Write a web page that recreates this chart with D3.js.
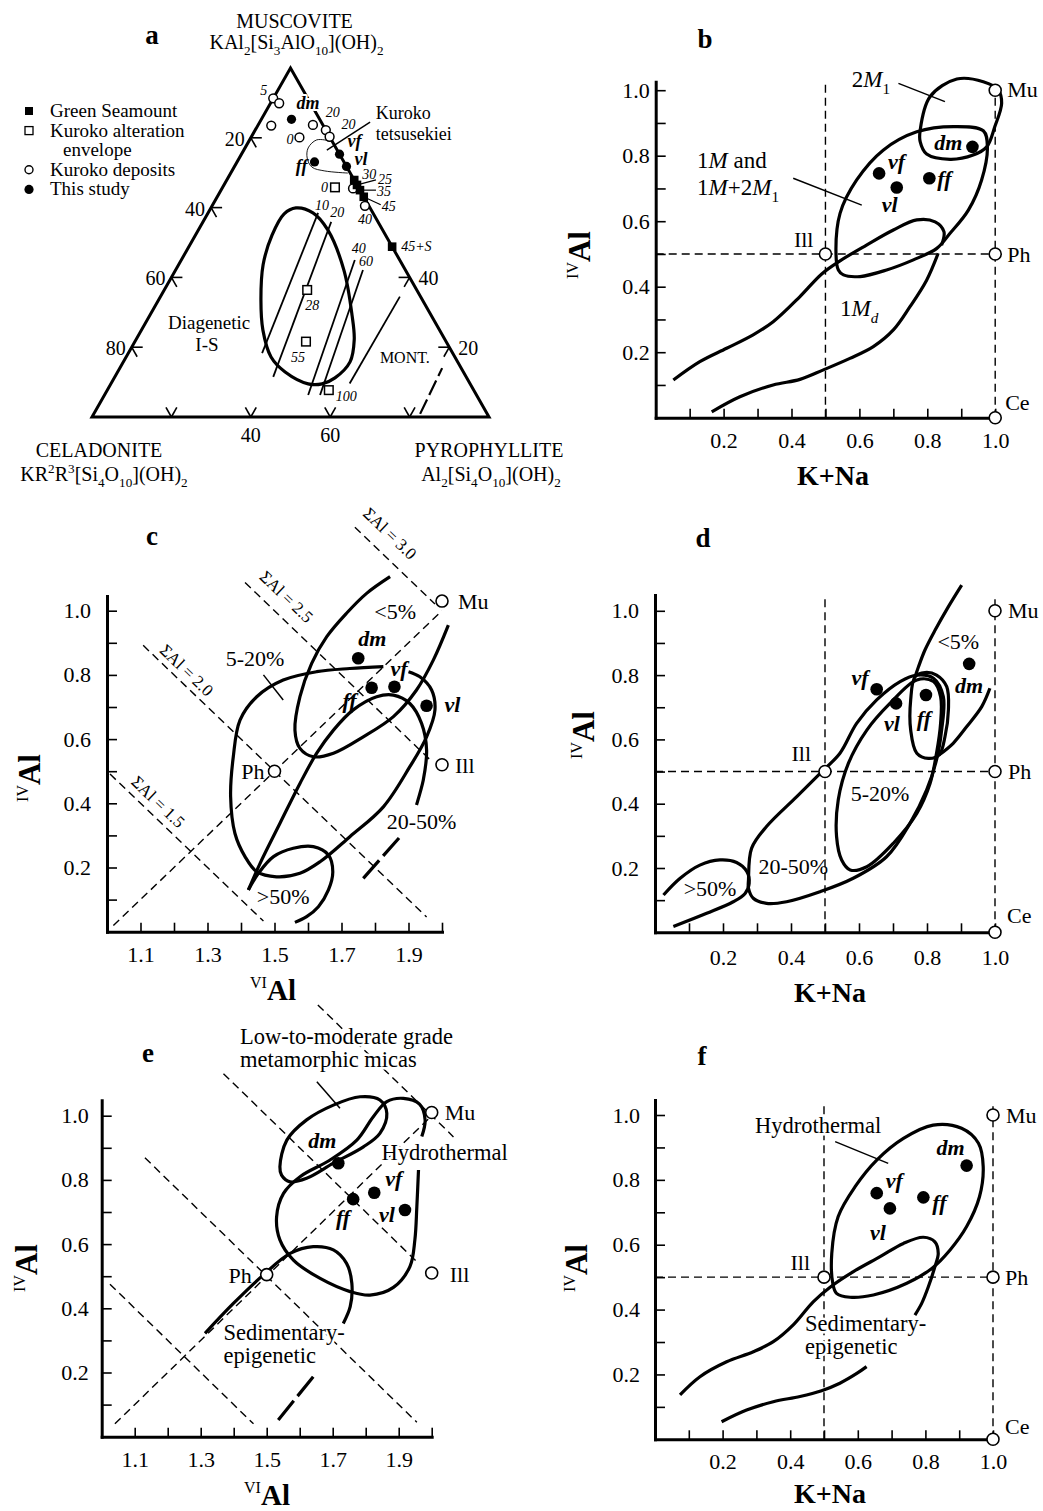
<!DOCTYPE html>
<html>
<head>
<meta charset="utf-8">
<title>Mica compositions</title>
<script src="https://cdn.jsdelivr.net/npm/d3@7"></script>
<style>
  html, body { margin: 0; padding: 0; background: #fff; }
  svg { display: block; }
</style>
</head>
<body>
<svg id="fig" width="1043" height="1511" xmlns="http://www.w3.org/2000/svg"></svg>
<script>
/* ================= DATA ================= */

/* (a) ternary Mu–Ce–Pyr; values in percent: p = pyrophyllite, m = muscovite (celadonite = 100 - p - m) */
const ternLeftTicks = [20, 40, 60, 80];
const ternRightTicks = [20, 40];
const ternBaseTicks = [20, 40, 60, 80];
const ternBaseLabels = [40, 60];

const legendA = [
  {kind: "sqFilled", lines: ["Green Seamount"]},
  {kind: "sqOpen", lines: ["Kuroko alteration", "envelope"]},
  {kind: "ciOpen", lines: ["Kuroko deposits"]},
  {kind: "ciFilled", lines: ["This study"]}
];

const greenSeamountA = [
  {p: 32.1, m: 67.9, label: "30"},
  {p: 33.5, m: 66.5, label: "25"},
  {p: 35.0, m: 65.0, label: "35"},
  {p: 36.9, m: 63.1, label: "45"},
  {p: 51.2, m: 48.8, label: "45+S"}
];
const kurokoEnvelopeA = [
  {p: 28.3, m: 65.8, label: "0"},
  {p: 36.0, m: 36.4, label: "28"},
  {p: 43.1, m: 21.6, label: "55"},
  {p: 55.8, m: 7.7, label: "100"}
];
const kurokoDepositsA = [
  {p: 0.0, m: 91.3, label: "5"},
  {p: 2.2, m: 89.9, label: ""},
  {p: 3.4, m: 83.5, label: ""},
  {p: 13.8, m: 83.7, label: ""},
  {p: 17.8, m: 82.2, label: "20"},
  {p: 19.7, m: 80.3, label: "20"},
  {p: 12.2, m: 80.1, label: "0"},
  {p: 33.0, m: 65.5, label: ""},
  {p: 38.5, m: 60.5, label: "40"}
];
const samplesA = [
  {id: "dm", p: 7.6, m: 85.3},
  {id: "vf", p: 24.7, m: 75.3},
  {id: "vl", p: 28.2, m: 71.8},
  {id: "ff", p: 19.5, m: 73.1}
];
const diageneticA = [[21.4,59.9],[26.4,58.5],[32.6,53.6],[42.4,42.1],[50.9,29.2],[55.0,22.1],[57.1,15.8],
  [55.6,11.2],[53.2,9.5],[49.7,9.5],[42.2,12.9],[36.5,17.2],[30.6,24.9],[25.8,33.5],[21.3,43.6],[19.3,52.1],[19.3,58.2]];
const illiteSmectiteLinesA = [
  {label: "10", pts: [[27.7,58.5],[33.7,18.3]]},
  {label: "20", pts: [[32.3,55.9],[39.9,11.5]]},
  {label: "40", pts: [[43.7,45.0],[51.3,6.3]]},
  {label: "60", pts: [[47.2,42.1],[54.3,6.3]]},
  {label: "",   pts: [[60.1,9.6],[60.3,34.5]]}
];
const montmorilloniteA = [[82.2,0.9],[81.2,14.0]];
const tetsusekieiA = [[20.4,79.1],[16.9,79.4],[15.9,77.1],[17.1,74.2],[19.6,71.6],[23.4,70.5],[29.5,69.9]];
const tetsusekieiPointerA = [[20.9,76.5],[27.8,84.5]];
const textA = [
  {text: "Diagenetic", p: 15.9, m: 27.2, size: 19},
  {text: "I-S", p: 18.5, m: 20.9, size: 19},
  {text: "MONT.", p: 70.2, m: 17.2, size: 16}
];
const kurokoLabelA = {lines: ["Kuroko", "tetsusekiei"], p: [28.8, 31.8], m: [85.4, 79.4]};

/* shared axis ticks */
const unitTicks = d3.range(1, 11).map(i => i / 10);          // 0.1 … 1.0
const unitLabels = [0.2, 0.4, 0.6, 0.8, 1.0];
const viAlTicks = d3.range(11, 21).map(i => i / 10);         // 1.1 … 2.0
const viAlLabels = [1.1, 1.3, 1.5, 1.7, 1.9];

/* (b) K+Na vs IVAl, polytypes */
const endMembersB = [{name: "Mu", x: 1, y: 1}, {name: "Ph", x: 1, y: 0.5}, {name: "Ce", x: 1, y: 0}, {name: "Ill", x: 0.5, y: 0.5}];
const samplesB = [{id: "dm", x: 0.933, y: 0.827}, {id: "vf", x: 0.658, y: 0.746}, {id: "vl", x: 0.710, y: 0.703}, {id: "ff", x: 0.806, y: 0.731}];
const field2M1B = [[0.779,0.878],[0.808,0.980],[0.887,1.034],[0.965,1.026],[1.009,1.001],[1.019,0.960],[0.999,0.889],
  [0.975,0.827],[0.935,0.802],[0.867,0.789],[0.798,0.805],[0.779,0.843]];
const field1MB = [[0.538,0.451],[0.531,0.502],[0.543,0.624],[0.592,0.726],[0.670,0.817],[0.769,0.873],[0.877,0.889],
  [0.965,0.876],[0.977,0.827],[0.960,0.726],[0.921,0.634],[0.867,0.563],[0.828,0.517],[0.759,0.482],[0.680,0.451],[0.602,0.431],[0.553,0.436]];
const field1MdUpperB = [[0.052,0.115],[0.130,0.171],[0.209,0.212],[0.287,0.253],[0.346,0.293],[0.425,0.370],[0.489,0.439],
  [0.543,0.479],[0.621,0.527],[0.700,0.573],[0.769,0.604],[0.823,0.598],[0.849,0.568],[0.842,0.527]];
const field1MdLowerB = [[0.165,0.018],[0.248,0.064],[0.346,0.100],[0.425,0.117],[0.494,0.146],[0.572,0.181],[0.641,0.217],
  [0.700,0.268],[0.749,0.339],[0.798,0.420],[0.832,0.502]];
const leadersB = [[[0.715,1.021],[0.852,0.965]], [[0.405,0.731],[0.607,0.649]]];
const annotationsB = [
  {parts: [{t: "2"}, {t: "M", i: 1}, {t: "1", sub: 1}], x: 0.634, y: 1.010, anchor: "middle"},
  {parts: [{t: "1"}, {t: "M", i: 1}, {t: " and"}], x: 0.122, y: 0.761, anchor: "start"},
  {parts: [{t: "1"}, {t: "M", i: 1}, {t: "+2"}, {t: "M", i: 1}, {t: "1", sub: 1}], x: 0.122, y: 0.680, anchor: "start"},
  {parts: [{t: "1"}, {t: "M", i: 1}, {t: "d", i: 1, sub: 1}], x: 0.543, y: 0.311, anchor: "start"}
];

/* (c) VIAl vs IVAl, % expandable layers */
const endMembersC = [{name: "Mu", x: 2.0, y: 1.03}, {name: "Ill", x: 2.0, y: 0.52}, {name: "Ph", x: 1.5, y: 0.5}];
const samplesC = [{id: "dm", x: 1.750, y: 0.852}, {id: "ff", x: 1.790, y: 0.760}, {id: "vf", x: 1.858, y: 0.763}, {id: "vl", x: 1.954, y: 0.704}];
const sumAlC = [{sum: 1.5, x0: 1.009, x1: 1.467}, {sum: 2.0, x0: 1.108, x1: 1.954}, {sum: 2.5, x0: 1.412, x1: 1.964}, {sum: 3.0, x0: 1.740, x1: 1.979}];
const sumAlLabelsC = [{text: "ΣAl = 1.5", x: 1.153, y: 0.405}, {text: "ΣAl = 2.0", x: 1.238, y: 0.815},
  {text: "ΣAl = 2.5", x: 1.536, y: 1.044}, {text: "ΣAl = 3.0", x: 1.845, y: 1.241}];
const diagonalC = {x0: 1.019, x1: 2.0};
const lt5C = [[1.845,1.106],[1.775,1.054],[1.715,0.992],[1.656,0.919],[1.611,0.836],[1.576,0.732],[1.561,0.628],[1.576,0.571],
  [1.616,0.545],[1.676,0.556],[1.765,0.607],[1.855,0.670],[1.924,0.753],[1.974,0.846],[2.019,0.955]];
const f5to20C = [[1.825,0.826],[1.725,0.820],[1.626,0.810],[1.526,0.784],[1.447,0.732],[1.397,0.659],[1.377,0.545],[1.369,0.421],
  [1.382,0.306],[1.412,0.234],[1.447,0.187],[1.506,0.171],[1.576,0.182],[1.636,0.218],[1.725,0.296],[1.825,0.389],[1.904,0.514],
  [1.954,0.607],[1.979,0.691],[1.969,0.753],[1.934,0.794],[1.900,0.810]];
const f20to50C = [[1.422,0.130],[1.457,0.213],[1.516,0.337],[1.576,0.462],[1.626,0.556],[1.676,0.628],[1.735,0.691],[1.805,0.732],
  [1.855,0.737],[1.904,0.711],[1.939,0.649],[1.954,0.566],[1.944,0.472],[1.924,0.395]];
const gt50C = [[1.422,0.130],[1.452,0.182],[1.497,0.234],[1.556,0.260],[1.616,0.265],[1.661,0.239],[1.674,0.187],[1.661,0.130],
  [1.631,0.078],[1.596,0.047],[1.561,0.029]];
const dashedBoundC = [[1.765,0.166],[1.875,0.296]];
const leaderC = [[1.467,0.800],[1.526,0.722]];
const annotationsC = [{text: "<5%", x: 1.860, y: 0.997}, {text: "5-20%", x: 1.442, y: 0.852}, {text: "20-50%", x: 1.939, y: 0.343}, {text: ">50%", x: 1.526, y: 0.109}];

/* (d) K+Na vs IVAl, % expandable layers */
const endMembersD = [{name: "Mu", x: 1, y: 1}, {name: "Ph", x: 1, y: 0.5}, {name: "Ce", x: 1, y: 0}, {name: "Ill", x: 0.5, y: 0.5}];
const samplesD = [{id: "dm", x: 0.924, y: 0.835}, {id: "vf", x: 0.652, y: 0.756}, {id: "vl", x: 0.709, y: 0.712}, {id: "ff", x: 0.797, y: 0.738}];
const ffLoopD = [[0.765,0.795],[0.752,0.723],[0.752,0.629],[0.770,0.557],[0.804,0.541],[0.836,0.552],[0.853,0.609],[0.863,0.692],
  [0.858,0.764],[0.828,0.800],[0.794,0.808]];
const lt5UpperD = [[0.902,1.080],[0.863,1.013],[0.824,0.940],[0.794,0.878],[0.775,0.826],[0.765,0.795]];
const lt5RightD = [[0.985,0.759],[0.961,0.702],[0.917,0.640],[0.877,0.588],[0.836,0.552]];
const f20to50D = [[0.275,0.163],[0.284,0.261],[0.328,0.329],[0.417,0.422],[0.488,0.497],[0.544,0.557],[0.593,0.650],[0.652,0.723],
  [0.721,0.780],[0.770,0.800],[0.819,0.790],[0.848,0.733],[0.843,0.629],[0.828,0.536],[0.799,0.443],[0.750,0.339],[0.681,0.235],
  [0.583,0.168],[0.485,0.126],[0.387,0.095],[0.328,0.090],[0.289,0.106],[0.275,0.137]];
const f5to20D = [[0.770,0.785],[0.691,0.712],[0.623,0.629],[0.569,0.526],[0.539,0.412],[0.534,0.298],[0.549,0.225],[0.574,0.194],
  [0.623,0.204],[0.701,0.277],[0.770,0.370],[0.809,0.463],[0.828,0.557],[0.840,0.650],[0.840,0.733],[0.819,0.780]];
const gt50D = [[0.025,0.116],[0.074,0.168],[0.132,0.209],[0.191,0.225],[0.240,0.217],[0.270,0.189],[0.277,0.152],[0.265,0.121],
  [0.230,0.095],[0.152,0.059],[0.054,0.018]];
const annotationsD = [{text: "<5%", x: 0.892, y: 0.904}, {text: "5-20%", x: 0.662, y: 0.432}, {text: "20-50%", x: 0.407, y: 0.204}, {text: ">50%", x: 0.162, y: 0.137}];

/* (e) VIAl vs IVAl, genetic fields */
const endMembersE = [{name: "Mu", x: 2.0, y: 1.01}, {name: "Ill", x: 2.0, y: 0.51}, {name: "Ph", x: 1.5, y: 0.505}];
const samplesE = [{id: "dm", x: 1.717, y: 0.852}, {id: "ff", x: 1.762, y: 0.740}, {id: "vf", x: 1.826, y: 0.760}, {id: "vl", x: 1.919, y: 0.706}];
const sumAlE = [{sum: 1.5, x0: 1.025, x1: 1.460}, {sum: 2.0, x0: 1.131, x1: 1.955}, {sum: 2.5, x0: 1.369, x1: 1.955}, {sum: 3.0, x0: 1.655, x1: 2.066}];
const diagonalE = {x0: 1.040, x1: 2.0};
const metamorphicE = [[1.540,0.841],[1.561,0.924],[1.621,0.987],[1.702,1.033],[1.783,1.059],[1.843,1.049],[1.864,1.007],[1.843,0.945],
  [1.793,0.903],[1.702,0.852],[1.621,0.805],[1.571,0.794],[1.545,0.815]];
const hydrothermalE = [[1.970,0.935],[1.980,0.987],[1.963,1.036],[1.914,1.054],[1.864,1.044],[1.823,0.997],[1.773,0.924],[1.692,0.862],
  [1.601,0.810],[1.551,0.758],[1.530,0.685],[1.540,0.613],[1.581,0.550],[1.662,0.493],[1.753,0.452],[1.813,0.441],[1.884,0.465],
  [1.934,0.530],[1.949,0.613],[1.955,0.717],[1.960,0.831]];
const sedimentaryE = [[1.313,0.322],[1.399,0.415],[1.490,0.504],[1.571,0.571],[1.641,0.592],[1.702,0.582],[1.742,0.540],[1.758,0.478],
  [1.753,0.405],[1.732,0.353]];
const sedimentaryDashE = [[1.641,0.187],[1.535,0.052]];
const leaderE = [[1.652,1.106],[1.722,1.023]];
const annotationsE = [
  {lines: ["Low-to-moderate grade", "metamorphic micas"], x: 1.419, y: [1.222, 1.152]},
  {lines: ["Hydrothermal"], x: 1.848, y: [0.862]},
  {lines: ["Sedimentary-", "epigenetic"], x: 1.369, y: [0.300, 0.230]}
];

/* (f) K+Na vs IVAl, genetic fields */
const endMembersF = [{name: "Mu", x: 1, y: 1}, {name: "Ph", x: 1, y: 0.5}, {name: "Ce", x: 1, y: 0}, {name: "Ill", x: 0.5, y: 0.5}];
const samplesF = [{id: "dm", x: 0.922, y: 0.844}, {id: "vf", x: 0.656, y: 0.759}, {id: "vl", x: 0.695, y: 0.712}, {id: "ff", x: 0.794, y: 0.746}];
const hydrothermalF = [[0.526,0.481],[0.523,0.573],[0.542,0.687],[0.592,0.779],[0.656,0.861],[0.735,0.928],[0.823,0.969],[0.907,0.959],
  [0.957,0.913],[0.971,0.841],[0.960,0.748],[0.922,0.656],[0.873,0.584],[0.819,0.527],[0.745,0.481],[0.646,0.445],[0.577,0.438],[0.537,0.450]];
const sedimentaryUpperF = [[0.074,0.137],[0.133,0.193],[0.212,0.239],[0.291,0.270],[0.350,0.301],[0.409,0.353],[0.468,0.424],[0.518,0.469],
  [0.587,0.517],[0.666,0.563],[0.735,0.604],[0.794,0.623],[0.828,0.609],[0.838,0.573],[0.828,0.532],[0.809,0.471],[0.789,0.419],[0.769,0.383]];
const sedimentaryLowerF = [[0.197,0.054],[0.271,0.090],[0.350,0.116],[0.429,0.132],[0.493,0.150],[0.547,0.173],[0.597,0.203],[0.626,0.224]];
const leaderF = [[0.533,0.918],[0.690,0.851]];
const annotationsF = [
  {lines: ["Hydrothermal"], x: 0.296, y: [0.945]},
  {lines: ["Sedimentary-", "epigenetic"], x: 0.444, y: [0.333, 0.263]}
];

/* ================= DRAWING ================= */
const svg = d3.select("#fig");
const SERIF = '"Liberation Serif","Times New Roman",Times,serif';
svg.attr("font-family", SERIF);
const openLine = d3.line().curve(d3.curveCatmullRom.alpha(0.5));
const closedLine = d3.line().curve(d3.curveCatmullRomClosed.alpha(0.5));
const straight = d3.line();
const BOUND_W = 3.2;

function rich(textSel, parts, size) {
  let shift = 0;
  parts.forEach(pt => {
    const s = pt.sub ? size * 0.3 : pt.sup ? -size * 0.4 : 0;
    const ts = textSel.append("tspan").text(pt.t).attr("dy", (s - shift).toFixed(2));
    shift = s;
    if (pt.sub || pt.sup) ts.attr("font-size", (size * 0.66).toFixed(1));
    if (pt.i) ts.attr("font-style", "italic");
    if (pt.b) ts.attr("font-weight", "bold");
  });
}
function halo(sel, w) {
  return sel.attr("stroke", "#fff").attr("stroke-width", w || 5).attr("stroke-linejoin", "round").attr("paint-order", "stroke");
}
function panelLetter(letter, x, y) {
  svg.append("text").attr("x", x).attr("y", y).attr("text-anchor", "middle")
    .attr("font-size", 27).attr("font-weight", "bold").text(letter);
}

/* ---------- (a) ---------- */
(function drawTernary() {
  const g = svg.append("g");
  const sp = d3.scaleLinear().domain([0, 100]).range([92, 489]);   // horizontal ternary scale
  const sm = d3.scaleLinear().domain([0, 100]).range([417, 68]);   // muscovite height
  const T = (p, m) => [sp(p + m / 2), sm(m)];
  const C = T(0, 0), P = T(100, 0), M = T(0, 100);

  // fields and reference lines
  g.append("path").attr("d", closedLine(diageneticA.map(d => T(d[0], d[1]))))
    .attr("fill", "none").attr("stroke", "#000").attr("stroke-width", 3.2);
  illiteSmectiteLinesA.forEach(l => {
    g.append("path").attr("d", straight(l.pts.map(d => T(d[0], d[1]))))
      .attr("fill", "none").attr("stroke", "#000").attr("stroke-width", 1.8);
  });
  g.append("path").attr("d", straight(montmorilloniteA.map(d => T(d[0], d[1]))))
    .attr("fill", "none").attr("stroke", "#000").attr("stroke-width", 2.2).attr("stroke-dasharray", "16,5");
  g.append("path").attr("d", openLine(tetsusekieiA.map(d => T(d[0], d[1]))))
    .attr("fill", "none").attr("stroke", "#000").attr("stroke-width", 0.9);
  g.append("path").attr("d", straight(tetsusekieiPointerA.map(d => T(d[0], d[1]))))
    .attr("fill", "none").attr("stroke", "#000").attr("stroke-width", 1.5);

  // triangle
  g.append("path").attr("d", straight([C, P, M]) + "Z")
    .attr("fill", "none").attr("stroke", "#000").attr("stroke-width", 3).attr("stroke-linejoin", "miter");

  // ticks (arms parallel to the other two edges)
  const L = 11, ux = 0.494, uy = 0.869;
  const tick = (pt, arms) => arms.forEach(a => g.append("line")
    .attr("x1", pt[0]).attr("y1", pt[1]).attr("x2", pt[0] + a[0] * L).attr("y2", pt[1] + a[1] * L)
    .attr("stroke", "#000").attr("stroke-width", 1.6));
  ternLeftTicks.forEach(c => {
    const pt = T(0, 100 - c);
    tick(pt, [[1, 0], [ux, uy]]);
    g.append("text").attr("x", pt[0] - 6).attr("y", pt[1] + 8).attr("text-anchor", "end").attr("font-size", 20).text(c);
  });
  ternRightTicks.forEach(m => {
    const pt = T(100 - m, m);
    tick(pt, [[-1, 0], [-ux, uy]]);
    g.append("text").attr("x", pt[0] + 9).attr("y", pt[1] + 8).attr("font-size", 20).text(m);
  });
  ternBaseTicks.forEach(p => {
    const pt = T(p, 0);
    tick(pt, [[-ux, -uy], [ux, -uy]]);
    if (ternBaseLabels.includes(p))
      g.append("text").attr("x", pt[0]).attr("y", pt[1] + 25).attr("text-anchor", "middle").attr("font-size", 20).text(p);
  });

  // vertex names
  g.append("text").attr("x", M[0] + 4).attr("y", 28).attr("text-anchor", "middle").attr("font-size", 20).text("MUSCOVITE");
  rich(g.append("text").attr("x", M[0] + 6).attr("y", 49).attr("text-anchor", "middle").attr("font-size", 20),
    [{t: "KAl"}, {t: "2", sub: 1}, {t: "[Si"}, {t: "3", sub: 1}, {t: "AlO"}, {t: "10", sub: 1}, {t: "](OH)"}, {t: "2", sub: 1}], 20);
  g.append("text").attr("x", C[0] + 7).attr("y", C[1] + 40).attr("text-anchor", "middle").attr("font-size", 20).text("CELADONITE");
  rich(g.append("text").attr("x", C[0] + 12).attr("y", C[1] + 64).attr("text-anchor", "middle").attr("font-size", 20),
    [{t: "KR"}, {t: "2", sup: 1}, {t: "R"}, {t: "3", sup: 1}, {t: "[Si"}, {t: "4", sub: 1}, {t: "O"}, {t: "10", sub: 1}, {t: "](OH)"}, {t: "2", sub: 1}], 20);
  g.append("text").attr("x", P[0]).attr("y", P[1] + 40).attr("text-anchor", "middle").attr("font-size", 20).text("PYROPHYLLITE");
  rich(g.append("text").attr("x", P[0] + 2).attr("y", P[1] + 64).attr("text-anchor", "middle").attr("font-size", 20),
    [{t: "Al"}, {t: "2", sub: 1}, {t: "[Si"}, {t: "4", sub: 1}, {t: "O"}, {t: "10", sub: 1}, {t: "](OH)"}, {t: "2", sub: 1}], 20);

  // field texts
  textA.forEach(t => {
    const pt = T(t.p, t.m);
    g.append("text").attr("x", pt[0]).attr("y", pt[1]).attr("dy", "0.35em").attr("text-anchor", "middle")
      .attr("font-size", t.size).text(t.text);
  });
  kurokoLabelA.lines.forEach((s, i) => {
    const pt = T(kurokoLabelA.p[i], kurokoLabelA.m[i]);
    g.append("text").attr("x", pt[0]).attr("y", pt[1]).attr("font-size", 18).text(s);
  });

  // illite–smectite line labels
  const isoOff = [[-3, -3], [-1, -5], [-3, -7], [-4, -4]];
  illiteSmectiteLinesA.forEach((l, i) => {
    if (!l.label) return;
    const pt = T(l.pts[0][0], l.pts[0][1]);
    g.append("text").attr("x", pt[0] + isoOff[i][0]).attr("y", pt[1] + isoOff[i][1])
      .attr("font-size", 14).attr("font-style", "italic").text(l.label);
  });

  // Kuroko alteration envelope (open squares)
  const envOff = [[-7, 5, "end"], [-2, 20, "start"], [-15, 20, "start"], [7, 11, "start"]];
  kurokoEnvelopeA.forEach((d, i) => {
    const pt = T(d.p, d.m);
    g.append("rect").attr("x", pt[0] - 4.3).attr("y", pt[1] - 4.3).attr("width", 8.6).attr("height", 8.6)
      .attr("fill", "#fff").attr("stroke", "#000").attr("stroke-width", 1.5);
    g.append("text").attr("x", pt[0] + envOff[i][0]).attr("y", pt[1] + envOff[i][1]).attr("text-anchor", envOff[i][2])
      .attr("font-size", 14).attr("font-style", "italic").text(d.label);
  });

  // Kuroko deposits (open circles)
  const depOff = {0: [-6, -3, "end"], 4: [0, -13, "start"], 5: [12, -8, "start"], 6: [-6, 7, "end"], 8: [0, 18, "middle"]};
  kurokoDepositsA.forEach((d, i) => {
    const pt = T(d.p, d.m);
    g.append("circle").attr("cx", pt[0]).attr("cy", pt[1]).attr("r", 4.4)
      .attr("fill", "#fff").attr("stroke", "#000").attr("stroke-width", 1.5);
    if (d.label && depOff[i])
      g.append("text").attr("x", pt[0] + depOff[i][0]).attr("y", pt[1] + depOff[i][1]).attr("text-anchor", depOff[i][2])
        .attr("font-size", 14).attr("font-style", "italic").text(d.label);
  });

  // Green Seamount (filled squares)
  const gsOff = [[8, -1], [21, -1], [17, 6], [18, 14], [9, 4]];
  const gsLead = [null, [4, -1, 19, -5], [4, 0, 16, 0], [4, 2, 17, 8], null];
  greenSeamountA.forEach((d, i) => {
    const pt = T(d.p, d.m);
    g.append("rect").attr("x", pt[0] - 4.3).attr("y", pt[1] - 4.3).attr("width", 8.6).attr("height", 8.6).attr("fill", "#000");
    if (gsLead[i]) g.append("line").attr("x1", pt[0] + gsLead[i][0]).attr("y1", pt[1] + gsLead[i][1])
      .attr("x2", pt[0] + gsLead[i][2]).attr("y2", pt[1] + gsLead[i][3]).attr("stroke", "#000").attr("stroke-width", 1.2);
    g.append("text").attr("x", pt[0] + gsOff[i][0]).attr("y", pt[1] + gsOff[i][1])
      .attr("font-size", 14).attr("font-style", "italic").text(d.label);
  });

  // this study (filled circles)
  const smpOff = {dm: [5, -10, "start"], vf: [8, -7, "start"], vl: [8, -1, "start"], ff: [-7, 10, "end"]};
  samplesA.forEach(d => {
    const pt = T(d.p, d.m);
    g.append("circle").attr("cx", pt[0]).attr("cy", pt[1]).attr("r", 4.6).attr("fill", "#000");
    const o = smpOff[d.id];
    const t = g.append("text").attr("x", pt[0] + o[0]).attr("y", pt[1] + o[1]).attr("text-anchor", o[2])
      .attr("font-size", 18).attr("font-weight", "bold").attr("font-style", "italic").text(d.id);
    if (d.id === "dm") halo(t, 4);
  });

  // legend
  let row = 0;
  const ly = r => 111 + r * 19.6;
  legendA.forEach(item => {
    const y0 = ly(row);
    if (item.kind === "sqFilled") g.append("rect").attr("x", 25).attr("y", y0 - 4).attr("width", 8).attr("height", 8).attr("fill", "#000");
    if (item.kind === "sqOpen") g.append("rect").attr("x", 25).attr("y", y0 - 4).attr("width", 8).attr("height", 8)
      .attr("fill", "#fff").attr("stroke", "#000").attr("stroke-width", 1.3);
    if (item.kind === "ciOpen") g.append("circle").attr("cx", 29).attr("cy", y0).attr("r", 4).attr("fill", "#fff").attr("stroke", "#000").attr("stroke-width", 1.4);
    if (item.kind === "ciFilled") g.append("circle").attr("cx", 29).attr("cy", y0).attr("r", 4.6).attr("fill", "#000");
    item.lines.forEach((s, k) => {
      g.append("text").attr("x", k === 0 ? 50 : 63).attr("y", ly(row) + 6).attr("font-size", 19).text(s);
      row++;
    });
  });
  panelLetter("a", 152, 44);
})();

/* ---------- generic x–y panel ---------- */
function xyPanel(cfg) {
  const g = svg.append("g");
  const x = d3.scaleLinear().domain(cfg.xDomain).range(cfg.xRange);
  const y = d3.scaleLinear().domain([0, 1]).range(cfg.yRange);
  g.x = x; g.y = y;
  g.layer = name => g.append("g").attr("class", name);
  const refs = g.layer("refs"), fields = g.layer("fields"), axes = g.layer("axes"), marks = g.layer("marks"), texts = g.layer("texts");
  g.refs = refs; g.fields = fields; g.marks = marks; g.texts = texts;

  const fmt = d3.format(".1f");
  const has = (arr, v) => arr.some(a => Math.abs(a - v) < 1e-6);
  const yAxisScale = y.copy().domain([0, cfg.yTop]).range([y(0), y(cfg.yTop)]);
  const gy = axes.append("g").attr("transform", `translate(${x(cfg.xDomain[0])},0)`)
    .call(d3.axisLeft(yAxisScale).tickValues(unitTicks).tickSize(-10).tickSizeOuter(0).tickPadding(cfg.yPad)
      .tickFormat(v => has(unitLabels, v) ? fmt(v) : ""));
  const gx = axes.append("g").attr("transform", `translate(0,${y(0)})`)
    .call(d3.axisBottom(x).tickValues(cfg.xTicks).tickSize(-9).tickSizeOuter(0).tickPadding(cfg.xPad)
      .tickFormat(v => has(cfg.xLabels, v) ? fmt(v) : ""));
  [gy, gx].forEach(a => {
    a.attr("font-family", SERIF).attr("font-size", 22);
    a.select(".domain").attr("stroke-width", 3).attr("stroke-linecap", "square");
    a.selectAll(".tick line").attr("stroke-width", 1.6);
    a.selectAll(".tick text").attr("fill", "#000");
  });

  // axis titles
  const yt = texts.append("text").attr("transform", `translate(${cfg.yTitle[0]},${cfg.yTitle[1]}) rotate(-90)`)
    .attr("text-anchor", "middle").attr("font-size", 31);
  rich(yt, [{t: "IV", sup: 1}, {t: "Al", b: 1}], 31);
  yt.selectAll("tspan").filter((d, i) => i === 0).attr("font-size", 16);
  const xt = texts.append("text").attr("x", cfg.xTitle[0]).attr("y", cfg.xTitle[1]).attr("text-anchor", "middle");
  if (cfg.xTitleText === "VIAl") {
    xt.attr("font-size", 29);
    rich(xt, [{t: "VI", sup: 1}, {t: "Al", b: 1}], 29);
    xt.selectAll("tspan").filter((d, i) => i === 0).attr("font-size", 16);
  } else {
    xt.attr("font-size", 28).attr("font-weight", "bold").text(cfg.xTitleText);
  }
  panelLetter(cfg.letter, cfg.letterPos[0], cfg.letterPos[1]);
  return g;
}
function dashed(sel, pts, g) {
  sel.append("path").attr("d", straight(pts.map(d => [g.x(d[0]), g.y(d[1])])))
    .attr("fill", "none").attr("stroke", "#000").attr("stroke-width", 1.4).attr("stroke-dasharray", "8,5");
}
function boundary(g, pts, closed, extra) {
  const p = g.fields.append("path").attr("d", (closed ? closedLine : openLine)(pts.map(d => [g.x(d[0]), g.y(d[1])])))
    .attr("fill", "none").attr("stroke", "#000").attr("stroke-width", BOUND_W).attr("stroke-linecap", "butt");
  if (extra) extra(p);
  return p;
}
function thinLine(g, pts) {
  g.fields.append("path").attr("d", straight(pts.map(d => [g.x(d[0]), g.y(d[1])])))
    .attr("fill", "none").attr("stroke", "#000").attr("stroke-width", 1.5);
}
function endMembers(g, list, offsets) {
  list.forEach(d => {
    g.marks.append("circle").attr("cx", g.x(d.x)).attr("cy", g.y(d.y)).attr("r", 6)
      .attr("fill", "#fff").attr("stroke", "#000").attr("stroke-width", 1.6);
    const o = offsets[d.name];
    g.texts.append("text").attr("x", g.x(d.x) + o[0]).attr("y", g.y(d.y) + o[1]).attr("text-anchor", o[2])
      .attr("font-size", 22).text(d.name);
  });
}
function samples(g, list, offsets) {
  list.forEach(d => {
    g.marks.append("circle").attr("cx", g.x(d.x)).attr("cy", g.y(d.y)).attr("r", 6.3).attr("fill", "#000");
    const o = offsets[d.id];
    g.texts.append("text").attr("x", g.x(d.x) + o[0]).attr("y", g.y(d.y) + o[1]).attr("text-anchor", o[2])
      .attr("font-size", 22).attr("font-weight", "bold").attr("font-style", "italic").text(d.id);
  });
}
function fieldLabels(g, list, size) {
  list.forEach(a => {
    g.texts.append("text").attr("x", g.x(a.x)).attr("y", g.y(a.y)).attr("dy", "0.35em").attr("text-anchor", "middle")
      .attr("font-size", size).text(a.text);
  });
}
function blockLabels(g, list) {
  list.forEach(a => a.lines.forEach((s, i) => {
    halo(g.texts.append("text").attr("x", g.x(a.x)).attr("y", g.y(a.y[i])).attr("font-size", 22.5).text(s), 5);
  }));
}
function sumAlLines(g, list, diag) {
  list.forEach(l => dashed(g.refs, [[l.x0, l.sum - l.x0], [l.x1, l.sum - l.x1]], g));
  dashed(g.refs, [[diag.x0, diag.x0 - 1], [diag.x1, diag.x1 - 1]], g);
}

/* ---------- (b) ---------- */
(function () {
  const g = xyPanel({letter: "b", letterPos: [705, 48], xDomain: [0, 1], xRange: [655.7, 995.2], yRange: [417.7, 90.2], yTop: 1.026,
    xTicks: unitTicks, xLabels: unitLabels, yPad: 6, xPad: 15, yTitle: [590, 255], xTitle: [833, 485], xTitleText: "K+Na"});
  dashed(g.refs, [[0.5, 0], [0.5, 1.026]], g);
  dashed(g.refs, [[1, 0], [1, 1]], g);
  dashed(g.refs, [[0, 0.5], [1, 0.5]], g);
  boundary(g, field2M1B, true);
  boundary(g, field1MB, true);
  boundary(g, field1MdUpperB, false);
  boundary(g, field1MdLowerB, false);
  leadersB.forEach(l => thinLine(g, l));
  endMembers(g, endMembersB, {Mu: [12, 7, "start"], Ph: [12, 8, "start"], Ce: [10, -8, "start"], Ill: [-12, -7, "end"]});
  samples(g, samplesB, {dm: [-10, 3, "end"], vf: [9, -4, "start"], vl: [-7, 25, "middle"], ff: [8, 8, "start"]});
  annotationsB.forEach(a => rich(g.texts.append("text").attr("x", g.x(a.x)).attr("y", g.y(a.y)).attr("text-anchor", a.anchor)
    .attr("font-size", 23), a.parts, 23));
})();

/* ---------- (c) ---------- */
(function () {
  const g = xyPanel({letter: "c", letterPos: [152, 545], xDomain: [1, 2], xRange: [107, 442], yRange: [931.7, 610.7], yTop: 1.046,
    xTicks: viAlTicks, xLabels: viAlLabels, yPad: 16, xPad: 15, yTitle: [40, 778], xTitle: [273, 1000], xTitleText: "VIAl"});
  sumAlLines(g, sumAlC, diagonalC);
  const ang = Math.atan2(g.y(0) - g.y(1), g.x(2) - g.x(1)) * 180 / Math.PI;
  sumAlLabelsC.forEach(l => {
    g.texts.append("text").attr("transform", `translate(${g.x(l.x)},${g.y(l.y)}) rotate(${ang})`)
      .attr("text-anchor", "middle").attr("dy", "0.35em").attr("font-size", 17).text(l.text);
  });
  boundary(g, lt5C, false);
  boundary(g, f5to20C, false);
  boundary(g, f20to50C, false);
  boundary(g, gt50C, false);
  boundary(g, dashedBoundC, false, p => p.attr("stroke-dasharray", "24,6"));
  thinLine(g, leaderC);
  endMembers(g, endMembersC, {Mu: [16, 8, "start"], Ill: [13, 8, "start"], Ph: [-10, 8, "end"]});
  samples(g, samplesC, {dm: [0, -12, "start"], ff: [-15, 20, "end"], vf: [-4, -11, "start"], vl: [18, 6, "start"]});
  fieldLabels(g, annotationsC, 22);
})();

/* ---------- (d) ---------- */
(function () {
  const g = xyPanel({letter: "d", letterPos: [703, 547], xDomain: [0, 1], xRange: [655, 995], yRange: [932.3, 610.8], yTop: 1.049,
    xTicks: unitTicks, xLabels: unitLabels, yPad: 16, xPad: 17, yTitle: [594, 735], xTitle: [830, 1002], xTitleText: "K+Na"});
  dashed(g.refs, [[0.5, 0], [0.5, 1.045]], g);
  dashed(g.refs, [[1, 0], [1, 1.049]], g);
  dashed(g.refs, [[0, 0.5], [1, 0.5]], g);
  boundary(g, ffLoopD, true);
  boundary(g, lt5UpperD, false);
  boundary(g, lt5RightD, false);
  boundary(g, f20to50D, true);
  boundary(g, f5to20D, true);
  boundary(g, gt50D, false);
  endMembers(g, endMembersD, {Mu: [13, 7, "start"], Ph: [13, 7, "start"], Ce: [12, -9, "start"], Ill: [-14, -11, "end"]});
  samples(g, samplesD, {dm: [0, 29, "middle"], vf: [-8, -4, "end"], vl: [-4, 28, "middle"], ff: [-2, 31, "middle"]});
  fieldLabels(g, annotationsD, 22);
})();

/* ---------- (e) ---------- */
(function () {
  const g = xyPanel({letter: "e", letterPos: [148, 1062], xDomain: [1, 2], xRange: [101.7, 431.7], yRange: [1436.7, 1115.7], yTop: 1.048,
    xTicks: viAlTicks, xLabels: viAlLabels, yPad: 13, xPad: 15, yTitle: [37, 1268], xTitle: [267, 1505], xTitleText: "VIAl"});
  sumAlLines(g, sumAlE, diagonalE);
  boundary(g, metamorphicE, true);
  boundary(g, hydrothermalE, false);
  boundary(g, sedimentaryE, false);
  boundary(g, sedimentaryDashE, false, p => p.attr("stroke-dasharray", "25,6"));
  thinLine(g, leaderE);
  endMembers(g, endMembersE, {Mu: [13, 8, "start"], Ill: [18, 9, "start"], Ph: [-15, 8, "end"]});
  samples(g, samplesE, {dm: [-2, -15, "end"], ff: [-3, 26, "end"], vf: [11, -7, "start"], vl: [-10, 12, "end"]});
  blockLabels(g, annotationsE);
})();

/* ---------- (f) ---------- */
(function () {
  const g = xyPanel({letter: "f", letterPos: [702, 1065], xDomain: [0, 1], xRange: [655, 993], yRange: [1439.3, 1115], yTop: 1.046,
    xTicks: unitTicks, xLabels: unitLabels, yPad: 15, xPad: 14, yTitle: [587, 1268], xTitle: [830, 1503], xTitleText: "K+Na"});
  dashed(g.refs, [[0.5, 0], [0.5, 1.04]], g);
  dashed(g.refs, [[1, 0], [1, 1.04]], g);
  dashed(g.refs, [[0, 0.5], [1, 0.5]], g);
  boundary(g, hydrothermalF, true);
  boundary(g, sedimentaryUpperF, false);
  boundary(g, sedimentaryLowerF, false);
  thinLine(g, leaderF);
  endMembers(g, endMembersF, {Mu: [13, 8, "start"], Ph: [12, 8, "start"], Ce: [12, -5, "start"], Ill: [-14, -7, "end"]});
  samples(g, samplesF, {dm: [-2, -11, "end"], vf: [9, -5, "start"], vl: [-12, 32, "middle"], ff: [9, 13, "start"]});
  blockLabels(g, annotationsF);
})();
</script>
</body>
</html>
